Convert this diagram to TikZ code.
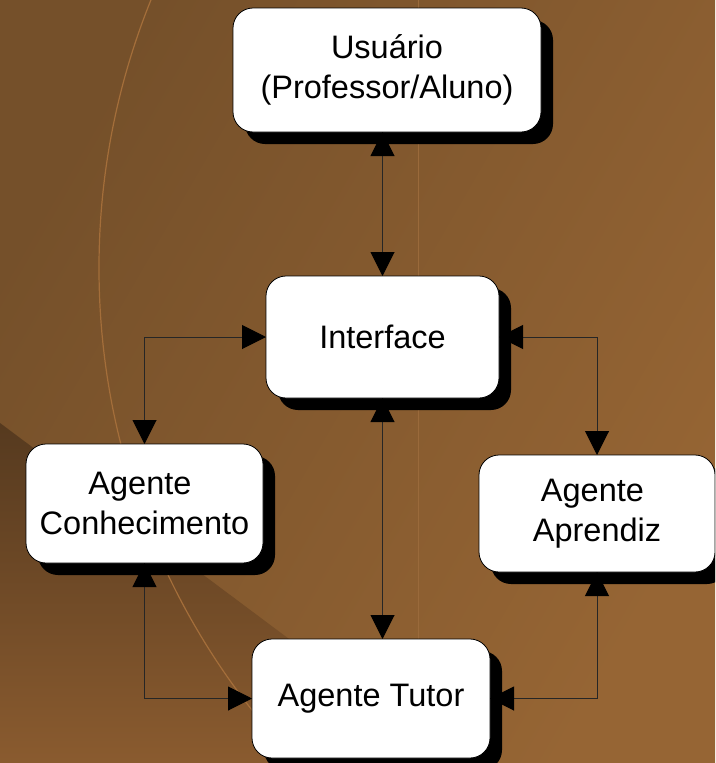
\documentclass[tikz,border=0pt]{standalone}
\usepackage{fontspec}
\setmainfont{Liberation Sans}
\usetikzlibrary{arrows.meta,shadows}

\definecolor{bgDark}{HTML}{75502A}
\definecolor{bgLight}{HTML}{966534}
\definecolor{wedgeTop}{HTML}{563A1F}
\definecolor{wedgeBot}{HTML}{8A5B2F}
\definecolor{arcLine}{HTML}{A46E3A}
\definecolor{rule}{HTML}{9A6A3B}

\begin{document}
\begin{tikzpicture}[x=1pt,y=-1pt,
  box/.style={draw=black, line width=0.8pt, fill=white, rounded corners=20pt,
    inner sep=0pt, outer sep=0pt, align=center,
    font=\fontsize{32.5}{40}\selectfont,
    drop shadow={shadow xshift=12pt, shadow yshift=-12pt, opacity=1, fill=black}},
  tip/.style={Triangle[length=24pt,width=24pt,color=black]},
  conn/.style={draw=black!85, line width=1pt,
    {Triangle[length=24pt,width=24pt,color=black]}-{Triangle[length=24pt,width=24pt,color=black]}}]

\useasboundingbox (0,0) rectangle (715,763);
\clip (0,0) rectangle (715,763);

% backdrop
\shade[top color=bgDark, bottom color=bgLight, shading angle=60] (0,0) rectangle (715,763);
\shade[top color=wedgeTop, bottom color=wedgeBot] (0,423) -- (455,763) -- (0,763) -- cycle;
\draw[arcLine, line width=1.2pt] (814,268) circle[radius=715];
\draw[rule, line width=1pt] (418,0) -- (418,763);

% boxes
\node[box, minimum width=308pt, minimum height=124pt] (usr) at (387,70)
  {Usuário\\(Professor/Aluno)};
\node[box, minimum width=233pt, minimum height=122pt] (ifc) at (382.5,337)
  {Interface};
\node[box, minimum width=237pt, minimum height=119pt] (con) at (144.5,503.5)
  {Agente\kern0.28em\\Conhecimento};
\node[box, minimum width=236pt, minimum height=117pt] (apr) at (597,513.5)
  {Agente\kern0.28em\\Aprendiz};
\node[box, minimum width=238pt, minimum height=119pt] (tut) at (371,698.5)
  {Agente Tutor};

% connectors
\draw[conn] (ifc.north |- usr.south) -- (ifc.north);
\draw[conn] (ifc.south) -- (ifc.south |- tut.north);
\draw[conn] (ifc.west) -| (con.north);
\draw[conn] (ifc.east) -| (apr.north);
\draw[conn] (con.south) |- (tut.west);
\draw[conn] (apr.south) |- (tut.east);
\end{tikzpicture}
\end{document}
